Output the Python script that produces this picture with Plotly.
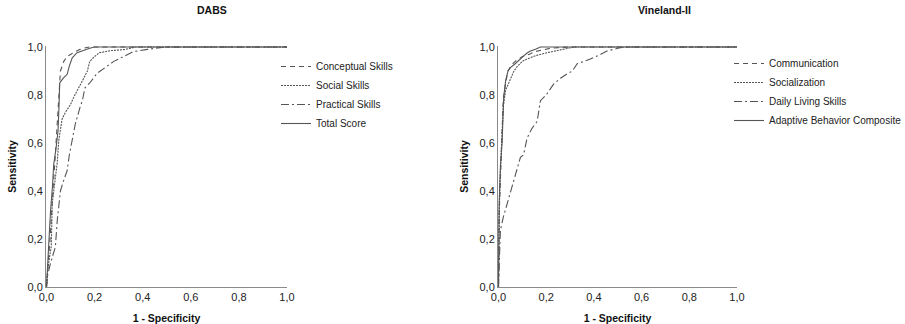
import plotly.graph_objects as go

# ---------------- data ----------------
dabs_names = ["Conceptual Skills", "Social Skills", "Practical Skills", "Total Score"]
vine_names = ["Communication", "Socialization", "Daily Living Skills", "Adaptive Behavior Composite"]

# DABS
conc_x = [0.0, 0.004, 0.01, 0.015, 0.02, 0.028, 0.035, 0.04, 0.044, 0.048, 0.052, 0.058, 0.065, 0.072, 0.085, 0.1, 0.12, 0.14, 0.155, 0.18, 1.0]
conc_y = [0.0, 0.08, 0.14, 0.2, 0.3, 0.42, 0.52, 0.6, 0.68, 0.76, 0.84, 0.9, 0.92, 0.94, 0.96, 0.97, 0.98, 0.99, 0.995, 1.0, 1.0]

soc_x = [0.0, 0.005, 0.012, 0.02, 0.024, 0.03, 0.037, 0.045, 0.051, 0.058, 0.065, 0.08, 0.1, 0.113, 0.13, 0.155, 0.17, 0.18, 0.2, 0.22, 0.27, 0.33, 0.37, 1.0]
soc_y = [0.0, 0.07, 0.12, 0.17, 0.35, 0.4, 0.44, 0.52, 0.61, 0.66, 0.7, 0.73, 0.76, 0.79, 0.82, 0.87, 0.9, 0.94, 0.96, 0.976, 0.985, 0.99, 1.0, 1.0]

prac_x = [0.0, 0.005, 0.017, 0.03, 0.037, 0.045, 0.058, 0.07, 0.086, 0.095, 0.107, 0.12, 0.14, 0.15, 0.16, 0.18, 0.21, 0.24, 0.28, 0.32, 0.36, 0.42, 0.5, 1.0]
prac_y = [0.0, 0.05, 0.1, 0.14, 0.167, 0.28, 0.4, 0.44, 0.485, 0.55, 0.62, 0.68, 0.75, 0.78, 0.83, 0.85, 0.89, 0.91, 0.94, 0.96, 0.98, 0.99, 1.0, 1.0]

tot_x = [0.0, 0.005, 0.01, 0.017, 0.025, 0.03, 0.04, 0.048, 0.052, 0.055, 0.07, 0.086, 0.095, 0.107, 0.127, 0.15, 0.18, 0.2, 1.0]
tot_y = [0.0, 0.1, 0.15, 0.32, 0.42, 0.51, 0.58, 0.65, 0.75, 0.85, 0.87, 0.886, 0.92, 0.955, 0.976, 0.985, 0.995, 1.0, 1.0]

# Vineland-II
com_x = [0.0, 0.003, 0.008, 0.014, 0.02, 0.03, 0.04, 0.055, 0.07, 0.1, 0.13, 0.15, 0.19, 0.22, 0.3, 1.0]
com_y = [0.0, 0.3, 0.45, 0.6, 0.78, 0.85, 0.9, 0.925, 0.94, 0.96, 0.97, 0.98, 0.99, 0.995, 1.0, 1.0]

socz_x = [0.0, 0.003, 0.008, 0.014, 0.02, 0.03, 0.05, 0.065, 0.08, 0.1, 0.12, 0.16, 0.2, 0.24, 0.27, 0.32, 1.0]
socz_y = [0.0, 0.32, 0.48, 0.62, 0.75, 0.82, 0.87, 0.9, 0.92, 0.94, 0.95, 0.965, 0.975, 0.985, 0.99, 1.0, 1.0]

dls_x = [0.0, 0.004, 0.008, 0.02, 0.036, 0.05, 0.064, 0.08, 0.092, 0.105, 0.12, 0.14, 0.162, 0.176, 0.2, 0.231, 0.26, 0.287, 0.31, 0.33, 0.36, 0.385, 0.42, 0.455, 0.51, 0.55, 1.0]
dls_y = [0.0, 0.12, 0.236, 0.29, 0.347, 0.4, 0.444, 0.5, 0.54, 0.55, 0.62, 0.66, 0.69, 0.776, 0.8, 0.845, 0.87, 0.887, 0.9, 0.93, 0.94, 0.95, 0.965, 0.983, 0.997, 1.0, 1.0]

abc_x = [0.0, 0.003, 0.008, 0.015, 0.022, 0.03, 0.04, 0.05, 0.07, 0.09, 0.106, 0.12, 0.134, 0.155, 0.176, 1.0]
abc_y = [0.0, 0.35, 0.5, 0.6, 0.79, 0.86, 0.9, 0.914, 0.93, 0.95, 0.963, 0.975, 0.983, 0.99, 1.0, 1.0]

tick_vals = [0.0, 0.2, 0.4, 0.6, 0.8, 1.0]

# ---------------- figure ----------------
W, H = 905, 324
LINE = "#555555"
dashes = ["5px,4px", "2px,1px", "8px,3px,2px,3px", "solid"]
FONT = "Liberation Sans, Arial"

fig = go.Figure()

dabs_series = [(conc_x, conc_y), (soc_x, soc_y), (prac_x, prac_y), (tot_x, tot_y)]
vine_series = [(com_x, com_y), (socz_x, socz_y), (dls_x, dls_y), (abc_x, abc_y)]

for (xs, ys), name, d in zip(dabs_series, dabs_names, dashes):
    fig.add_trace(go.Scatter(x=xs, y=ys, name=name, mode="lines",
                             line=dict(color=LINE, width=1.1, dash=d),
                             xaxis="x", yaxis="y", legend="legend"))
for (xs, ys), name, d in zip(vine_series, vine_names, dashes):
    fig.add_trace(go.Scatter(x=xs, y=ys, name=name, mode="lines",
                             line=dict(color=LINE, width=1.1, dash=d),
                             xaxis="x2", yaxis="y2", legend="legend2"))

def px_x(p):
    return p / W

def px_y(p):
    return 1 - p / H

ydom = [px_y(287), px_y(46)]
axis_common = dict(tickvals=tick_vals, tickformat=".1f", automargin=False,
                   showgrid=False, zeroline=False, showline=True,
                   linecolor="#8a8a8a", linewidth=1, ticks="",
                   tickfont=dict(family=FONT, size=11, color="#222"))
title_font = dict(family=FONT, size=10.5, color="#111")

xaxis = dict(axis_common, domain=[px_x(46), px_x(287)], anchor="y",
             range=[-0.002, 1.0],
             title=dict(text="<b>1 - Specificity</b>", font=title_font, standoff=13))
yaxis = dict(axis_common, domain=ydom, anchor="x", range=[0, 1.004],
             title=dict(text="<b>Sensitivity</b>", font=title_font, standoff=8))
xaxis2 = dict(axis_common, domain=[px_x(498), px_x(737)], anchor="y2",
              range=[-0.002, 1.0],
              title=dict(text="<b>1 - Specificity</b>", font=title_font, standoff=13))
yaxis2 = dict(axis_common, domain=ydom, anchor="x2", range=[0, 1.004],
              title=dict(text="<b>Sensitivity</b>", font=title_font, standoff=8))

legend_common = dict(bgcolor="rgba(0,0,0,0)", borderwidth=0,
                     font=dict(family=FONT, size=10, color="#222"),
                     itemwidth=30, tracegroupgap=0,
                     xanchor="left", yanchor="top", xref="paper", yref="paper")

fig.update_layout(
    width=W, height=H,
    margin=dict(l=0, r=0, t=0, b=0, autoexpand=False),
    paper_bgcolor="white", plot_bgcolor="white",
    separators=",.",
    showlegend=True,
    xaxis=xaxis, yaxis=yaxis, xaxis2=xaxis2, yaxis2=yaxis2,
    legend=dict(legend_common, x=px_x(276), y=px_y(52)),
    legend2=dict(legend_common, x=px_x(729), y=px_y(49)),
    annotations=[
        dict(text="<b>DABS</b>", x=px_x(212), y=px_y(10), xref="paper", yref="paper",
             xanchor="center", yanchor="middle", showarrow=False,
             font=dict(family=FONT, size=10.5, color="#111")),
        dict(text="<b>Vineland-II</b>", x=px_x(664), y=px_y(10), xref="paper", yref="paper",
             xanchor="center", yanchor="middle", showarrow=False,
             font=dict(family=FONT, size=10.5, color="#111")),
    ],
)

# the page body keeps no margin, so the figure fills the window exactly
fig.write_html("out.html", config={"displayModeBar": False},
               post_script="document.body.style.margin='0';")
